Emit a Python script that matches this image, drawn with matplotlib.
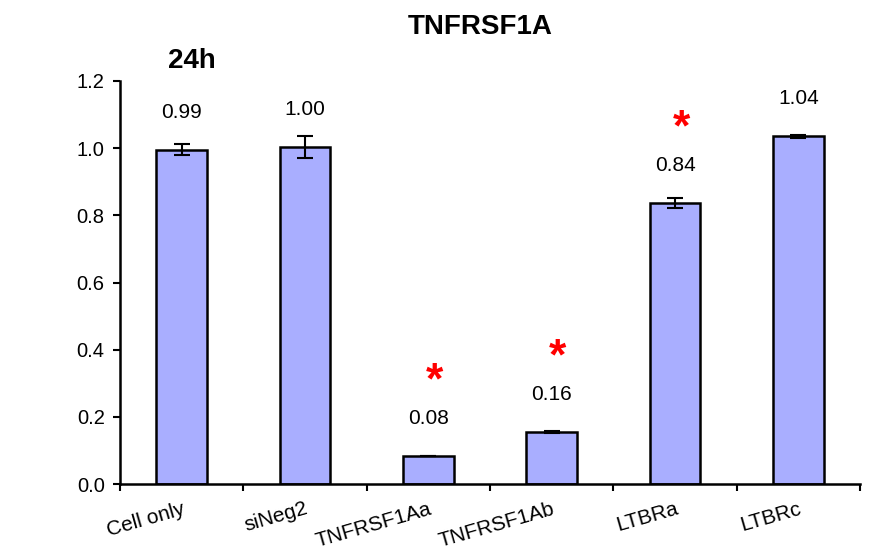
import matplotlib
matplotlib.use("Agg")
import matplotlib.pyplot as plt

categories = ["Cell only", "siNeg2", "TNFRSF1Aa", "TNFRSF1Ab", "LTBRa", "LTBRc"]
values = [0.995, 1.003, 0.083, 0.155, 0.836, 1.035]
errors = [0.016, 0.033, 0.0, 0.004, 0.015, 0.004]
labels = ["0.99", "1.00", "0.08", "0.16", "0.84", "1.04"]
significant = [False, False, True, True, True, False]
yticks = [0.0, 0.2, 0.4, 0.6, 0.8, 1.0, 1.2]

plt.rcParams['font.family'] = ['Liberation Sans', 'DejaVu Sans']

fig = plt.figure(figsize=(8.74, 5.58), dpi=100)
ax = fig.add_axes([120/874, 1-484/558, (860-120)/874, (484-81)/558])

x = list(range(len(categories)))
ax.bar(x, values, width=0.41, color="#A9AEFF", edgecolor="black", linewidth=1.8, zorder=2)
ax.errorbar(x, values, yerr=errors, fmt="none", ecolor="black", elinewidth=1.5,
            capsize=6, capthick=1.5, zorder=3)

for xi, v, e, lab, sig in zip(x, values, errors, labels, significant):
    ax.annotate(lab, (xi, v), xytext=(0, 23), textcoords="offset points",
                ha="center", va="baseline", fontsize=15)
    if sig:
        ax.annotate("*", (xi + 0.05, v), xytext=(0, 45), textcoords="offset points",
                    ha="center", va="baseline", fontsize=32, color="red", fontweight="bold")

ax.set_xlim(-0.5, len(categories) - 0.5)
ax.set_ylim(0, 1.2)
ax.set_yticks(yticks)
ax.set_yticklabels([f"{t:.1f}" for t in yticks], fontsize=14.5)
ax.tick_params(axis="y", direction="out", length=5, width=1.5, pad=6)

bounds = [i - 0.5 for i in range(len(categories) + 1)]
ax.set_xticks(bounds)
ax.set_xticklabels([])
ax.tick_params(axis="x", which="major", direction="out", length=5, width=1.5)
ax.set_xticks(x, minor=True)
ax.set_xticklabels(categories, minor=True, rotation=16, ha="right",
                   rotation_mode="anchor", fontsize=15)
ax.tick_params(axis="x", which="minor", length=0, pad=11)

for s in ["top", "right"]:
    ax.spines[s].set_visible(False)
for s in ["left", "bottom"]:
    ax.spines[s].set_linewidth(1.8)

fig.text(480/874, 1-27/558, "TNFRSF1A", ha="center", va="center", fontsize=20, fontweight="bold")
fig.text(192/874, 1-61/558, "24h", ha="center", va="center", fontsize=20, fontweight="bold")

fig.savefig("out.png", dpi=100)
